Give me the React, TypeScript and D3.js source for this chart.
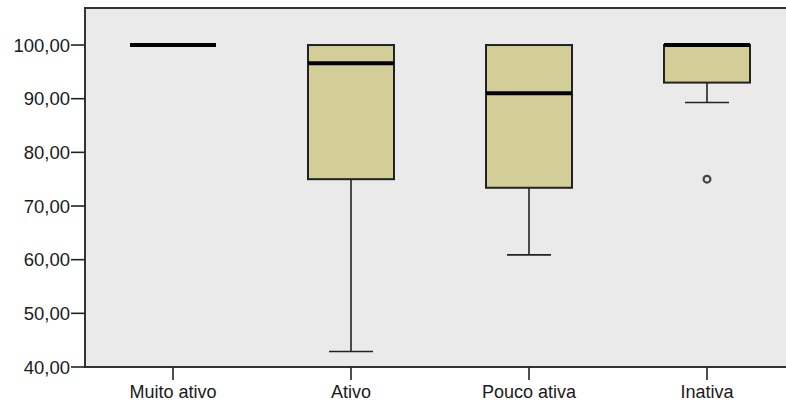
import { useEffect, useRef } from 'react';
import * as d3 from 'd3';

const categories = ['Muito ativo', 'Ativo', 'Pouco ativa', 'Inativa'];
const whiskerLow = [100, 42.9, 60.9, 89.3];
const q1 = [100, 75, 73.4, 93];
const median = [100, 96.6, 91, 100];
const q3 = [100, 100, 100, 100];
const whiskerHigh = [100, 100, 100, 100];
const outliers = [[], [], [], [75]];
const yTicks = [40, 50, 60, 70, 80, 90, 100];

export default function App() {
  const svgRef = useRef(null);
  const width = 786;
  const height = 406;

  useEffect(() => {
    const svg = d3.select(svgRef.current);
    svg.selectAll('*').remove();

    const left = 85;
    const top = 8;
    const bottom = 367;
    const step = 178;

    const x = d3.scaleBand()
      .domain(categories)
      .range([left - 1, left - 1 + step * categories.length])
      .paddingInner(0)
      .paddingOuter(0);

    const y = d3.scaleLinear()
      .domain([40, 106.9])
      .range([bottom, top]);

    const fmt = (v) => d3.format('.2f')(v).replace('.', ',');
    const line = '#222';

    svg.append('rect')
      .attr('x', left)
      .attr('y', top)
      .attr('width', width - left + 10)
      .attr('height', bottom - top)
      .attr('fill', '#eaeaea')
      .attr('stroke', '#333')
      .attr('stroke-width', 2);

    const boxW = 86;
    const capW = 44;

    categories.forEach((c, i) => {
      const cx = x(c) + x.bandwidth() / 2;
      const g = svg.append('g');

      // whiskers
      if (whiskerLow[i] < q1[i]) {
        g.append('line')
          .attr('x1', cx).attr('x2', cx)
          .attr('y1', y(q1[i])).attr('y2', y(whiskerLow[i]))
          .attr('stroke', line).attr('stroke-width', 1.6);
        g.append('line')
          .attr('x1', cx - capW / 2).attr('x2', cx + capW / 2)
          .attr('y1', y(whiskerLow[i])).attr('y2', y(whiskerLow[i]))
          .attr('stroke', line).attr('stroke-width', 1.6);
      }
      if (whiskerHigh[i] > q3[i]) {
        g.append('line')
          .attr('x1', cx).attr('x2', cx)
          .attr('y1', y(q3[i])).attr('y2', y(whiskerHigh[i]))
          .attr('stroke', line).attr('stroke-width', 1.6);
        g.append('line')
          .attr('x1', cx - capW / 2).attr('x2', cx + capW / 2)
          .attr('y1', y(whiskerHigh[i])).attr('y2', y(whiskerHigh[i]))
          .attr('stroke', line).attr('stroke-width', 1.6);
      }

      // box
      if (q3[i] > q1[i]) {
        g.append('rect')
          .attr('x', cx - boxW / 2)
          .attr('y', y(q3[i]))
          .attr('width', boxW)
          .attr('height', y(q1[i]) - y(q3[i]))
          .attr('fill', '#d3ce97')
          .attr('stroke', line)
          .attr('stroke-width', 2);
      }

      // median
      g.append('line')
        .attr('x1', cx - boxW / 2).attr('x2', cx + boxW / 2)
        .attr('y1', y(median[i])).attr('y2', y(median[i]))
        .attr('stroke', '#000')
        .attr('stroke-width', 4);

      outliers[i].forEach(o => {
        g.append('circle')
          .attr('cx', cx)
          .attr('cy', y(o))
          .attr('r', 3.4)
          .attr('fill', 'none')
          .attr('stroke', '#444')
          .attr('stroke-width', 2.2);
      });

      // x tick + label
      svg.append('line')
        .attr('x1', cx).attr('x2', cx)
        .attr('y1', bottom).attr('y2', bottom + 13)
        .attr('stroke', line).attr('stroke-width', 1.6);
      svg.append('text')
        .attr('x', cx)
        .attr('y', bottom + 31)
        .attr('text-anchor', 'middle')
        .attr('fill', '#1a1a1a')
        .style('font-family', 'Arial, "Liberation Sans", sans-serif')
        .style('font-size', '18px')
        .text(c);
    });

    yTicks.forEach(t => {
      svg.append('line')
        .attr('x1', left - 14).attr('x2', left)
        .attr('y1', y(t)).attr('y2', y(t))
        .attr('stroke', line).attr('stroke-width', 1.6);
      svg.append('text')
        .attr('x', left - 15)
        .attr('y', y(t))
        .attr('dy', '0.36em')
        .attr('text-anchor', 'end')
        .attr('fill', '#1a1a1a')
        .style('font-family', 'Arial, "Liberation Sans", sans-serif')
        .style('font-size', '18.5px')
        .text(fmt(t));
    });
  }, []);

  return (
    <div style={{ position: 'fixed', left: 0, top: 0, width, height, background: '#fff' }}>
      <svg ref={svgRef} width={width} height={height}></svg>
    </div>
  );
}
